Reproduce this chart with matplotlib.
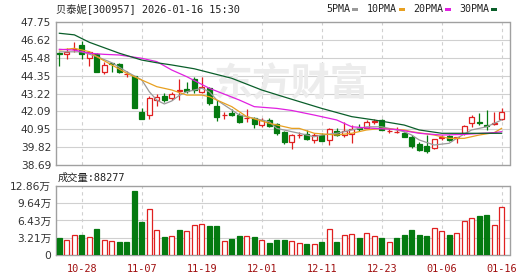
import numpy as np
import matplotlib
matplotlib.use("Agg")
import matplotlib.pyplot as plt

plt.rcParams['font.family'] = ['DejaVu Sans', 'Noto Sans CJK SC']

# ---- data ----
title = "贝泰妮[300957] 2026-01-16 15:30"
dates = ["10-28", "11-07", "11-19", "12-01", "12-11", "12-23", "01-06", "01-16"]
date_idx = [3, 11, 19, 27, 35, 43, 51, 59]

opens = [45.76, 45.69, 46.00, 46.28, 45.44, 45.69, 44.56, 45.15, 45.08, 44.44,
         44.32, 42.07, 41.86, 42.81, 43.06, 42.91, 43.37, 43.48, 44.11, 43.33,
         43.54, 42.43, 41.85, 41.97, 41.86, 41.68, 41.65, 41.23, 41.55, 41.28,
         40.78, 40.18, 40.59, 40.64, 40.29, 40.60, 40.29, 40.85, 40.60, 40.66,
         41.05, 41.05, 41.42, 41.55, 40.86, 40.80, 40.75, 40.45, 40.03, 39.91,
         39.76, 40.44, 40.54, 40.44, 40.71, 41.34, 41.42, 41.23, 41.32, 41.59]
highs = [45.86, 46.07, 46.49, 46.55, 45.88, 45.75, 45.23, 45.17, 45.17, 44.66,
         44.35, 42.28, 43.06, 43.18, 43.27, 43.33, 44.11, 43.96, 44.28, 44.28,
         43.65, 42.81, 42.07, 42.24, 41.97, 42.22, 41.76, 41.65, 41.65, 41.34,
         40.83, 40.65, 40.81, 40.91, 40.70, 40.70, 41.02, 41.02, 41.44, 41.23,
         41.30, 41.55, 41.60, 41.60, 41.02, 41.10, 40.78, 40.60, 40.18, 40.60,
         40.33, 40.60, 40.60, 40.50, 41.23, 41.86, 41.97, 42.18, 42.07, 42.28]
lows = [44.95, 45.38, 45.86, 45.38, 44.97, 44.60, 44.45, 44.56, 44.50, 44.28,
        42.28, 41.58, 41.61, 42.44, 42.70, 42.81, 42.81, 43.23, 43.27, 43.23,
        42.49, 41.48, 41.61, 41.80, 41.38, 41.44, 41.02, 41.13, 41.13, 40.61,
        40.05, 39.72, 40.39, 40.29, 40.12, 40.20, 39.97, 40.54, 40.49, 40.12,
        40.85, 41.02, 41.30, 40.90, 40.70, 40.70, 40.45, 39.76, 39.61, 39.48,
        39.70, 40.29, 40.25, 40.12, 40.60, 41.13, 41.23, 40.92, 41.23, 41.55]
closes = [45.70, 45.82, 46.02, 45.69, 45.86, 44.60, 45.02, 45.10, 44.56, 44.46,
          42.28, 41.61, 42.95, 43.02, 42.81, 43.18, 43.44, 43.40, 43.44, 43.65,
          42.60, 41.76, 41.87, 41.86, 41.44, 41.70, 41.30, 41.55, 41.19, 40.72,
          40.13, 40.60, 40.61, 40.33, 40.60, 40.25, 40.95, 40.60, 40.85, 40.95,
          40.98, 41.40, 41.46, 40.92, 40.88, 40.82, 40.49, 39.91, 39.65, 39.59,
          40.33, 40.46, 40.29, 40.46, 41.17, 41.76, 41.36, 41.17, 41.36, 42.07]

# volume in 万 and up(1)/down(0) colour of each bar
volume = [3.15, 2.8, 3.7, 3.7, 3.35, 4.8, 2.9, 2.6, 2.4, 2.4,
          11.9, 6.1, 8.5, 4.75, 3.35, 3.5, 4.65, 4.45, 5.55, 5.75,
          5.4, 5.4, 2.6, 2.95, 3.5, 3.5, 3.35, 2.8, 2.25, 2.8,
          2.8, 2.6, 2.2, 2.05, 2.05, 2.4, 4.8, 2.4, 3.7, 3.9,
          3.15, 4.1, 3.5, 3.15, 2.4, 3.15, 3.7, 4.65, 3.7, 3.5,
          5.0, 4.45, 3.7, 4.1, 6.3, 6.85, 7.25, 7.4, 5.55, 8.83]
vol_up = [0, 1, 1, 0, 1, 0, 1, 1, 0, 0,
          0, 0, 1, 1, 0, 1, 0, 1, 1, 1,
          0, 0, 1, 0, 0, 1, 0, 1, 0, 0,
          0, 1, 1, 0, 1, 0, 1, 0, 1, 1,
          0, 1, 1, 0, 1, 0, 0, 0, 0, 0,
          1, 1, 0, 1, 1, 1, 0, 0, 1, 1]

# moving averages, sampled at (day index, value)
ma5_x = [0, 3, 5, 7, 9, 11, 12, 13, 14, 15, 16, 17, 19, 20, 21, 23, 24, 26, 28, 29,
         31, 32, 34, 35, 37, 39, 41, 43, 46, 47, 48, 50, 52, 53, 55, 57, 59]
ma5_y = [45.85, 45.85, 45.55, 45.16, 44.59, 44.07, 43.33, 42.80, 42.56, 42.75, 43.10,
         43.33, 43.55, 43.33, 42.81, 42.18, 41.86, 41.65, 41.44, 41.02,
         40.81, 40.71, 40.49, 40.60, 40.71, 40.92, 41.12, 41.12, 40.81, 40.60,
         40.29, 39.97, 40.08, 40.39, 40.92, 41.12, 41.55]
ma10_x = [0, 2, 4, 5, 7, 9, 11, 13, 15, 17, 19, 20, 23, 25, 28, 31, 32, 34, 37,
          39, 41, 43, 46, 47, 50, 52, 54, 56, 58, 59]
ma10_y = [45.96, 46.07, 45.86, 45.54, 45.02, 44.49, 44.07, 43.65, 43.44, 43.12,
          43.12, 43.02, 42.39, 41.76, 41.34, 41.02, 41.02, 40.71, 40.60, 40.71,
          40.92, 41.02, 40.92, 40.81, 40.60, 40.39, 40.39, 40.60, 40.75, 41.02]
ma20_x = [0, 2, 4, 6, 8, 11, 13, 15, 17, 20, 24, 26, 29, 31, 34, 37, 39, 42, 45,
          48, 51, 54, 58, 59]
ma20_y = [46.01, 45.96, 45.76, 45.69, 45.65, 45.44, 45.23, 44.70, 44.28, 43.55,
          42.81, 42.39, 42.28, 42.15, 41.86, 41.55, 41.12, 41.02, 40.95, 40.71,
          40.60, 40.64, 40.75, 40.81]
ma30_x = [0, 2, 4, 8, 11, 13, 15, 18, 23, 27, 30, 35, 39, 42, 46, 48, 51, 54, 59]
ma30_y = [47.02, 46.92, 46.45, 45.76, 45.33, 45.16, 45.02, 44.78, 44.18, 43.44,
          43.00, 42.28, 41.76, 41.55, 41.23, 40.92, 40.71, 40.71, 40.71]

price_ticks = [38.69, 39.82, 40.95, 42.09, 43.22, 44.35, 45.48, 46.62, 47.75]
vol_ticks = [0, 3.21, 6.43, 9.64, 12.86]
vol_labels = ["0", "3.21万", "6.43万", "9.64万", "12.86万"]

RED = "#e02020"
GREEN = "#047a10"
GRID = "#d0d0d0"
BORDER = "#a0a0a0"

W, H = 530, 276
fig = plt.figure(figsize=(W / 100, H / 100), dpi=100)


def rect(x0, y0, x1, y1):
    return [x0 / W, 1 - y1 / H, (x1 - x0) / W, (y1 - y0) / H]


ax = fig.add_axes(rect(56, 21.7, 509.5, 165.3))
axv = fig.add_axes(rect(56, 185.7, 509.5, 255.2))

n = len(closes)
xlim = (-0.45, 60.05)

for a in (ax, axv):
    a.set_xlim(*xlim)
    for s in a.spines.values():
        s.set_color(BORDER)
        s.set_linewidth(1)
    a.tick_params(length=0, colors="#333333", labelsize=7.7)
    for xi in date_idx:
        a.axvline(xi, color=GRID, lw=0.8, ls=(0, (3, 3)), zorder=0)

# price panel
ax.set_ylim(price_ticks[0], price_ticks[-1])
ax.set_yticks(price_ticks)
ax.set_yticklabels([f"{t:.2f}" for t in price_ticks])
ax.set_xticks([])
for t in price_ticks[1:-1]:
    ax.axhline(t, color=GRID, lw=0.8, zorder=0)

ax.text(0.52, 0.56, "东方财富", transform=ax.transAxes, fontsize=28,
        fontweight="bold", color="#ececec", ha="center", va="center",
        family="Noto Sans CJK SC", zorder=0.5)

bw = 0.66
for i in range(n):
    o, h, l, c = opens[i], highs[i], lows[i], closes[i]
    up = c >= o
    col = RED if up else GREEN
    ax.vlines(i, l, h, color=col, lw=0.9, zorder=3)
    bottom = min(o, c)
    height = max(abs(c - o), 0.015)
    ax.bar(i, height, bw, bottom=bottom, facecolor="white" if up else GREEN,
           edgecolor=col, lw=0.9, zorder=4)

ax.plot(ma5_x, ma5_y, color="#9a9a9a", lw=0.9, zorder=5)
ax.plot(ma10_x, ma10_y, color="#e8a020", lw=0.9, zorder=5)
ax.plot(ma20_x, ma20_y, color="#e020e0", lw=0.9, zorder=5)
ax.plot(ma30_x, ma30_y, color="#0a5e2a", lw=0.9, zorder=5)

# volume panel
axv.set_ylim(0, vol_ticks[-1])
axv.set_yticks(vol_ticks)
axv.set_yticklabels(vol_labels)
for t in vol_ticks[1:-1]:
    axv.axhline(t, color=GRID, lw=0.8, zorder=0)
axv.set_xticks(date_idx)
axv.set_xticklabels(dates, family="DejaVu Sans Mono", fontsize=7.4,
                    color="#a01010")
axv.tick_params(axis="x", pad=6)
for i in range(n):
    up = vol_up[i] == 1
    axv.bar(i, volume[i], 0.66, facecolor="white" if up else GREEN,
            edgecolor=RED if up else GREEN, lw=0.9, zorder=3)

# header texts
mono = ["DejaVu Sans Mono", "Noto Sans CJK SC"]
fig.text(56 / W, 1 - 8.5 / H, title, family=mono, fontsize=7.4,
         color="#222222", va="center", ha="left")
fig.text(58 / W, 1 - 178 / H, "成交量:88277", family=mono, fontsize=7.4,
         color="#222222", va="center", ha="left")

legend_items = [("5PMA", "#9a9a9a", 326), ("10PMA", "#e8a020", 367),
                ("20PMA", "#e020e0", 413), ("30PMA", "#0a5e2a", 459)]
for label, col, px in legend_items:
    fig.text(px / W, 1 - 9.5 / H, label, family="DejaVu Sans Mono",
             fontsize=7.2, color="#222222", va="center", ha="left")
    sx = px + 6.0 * len(label) + 2
    fig.patches.append(plt.Rectangle((sx / W, 1 - 11 / H), 6 / W, 3 / H,
                                     transform=fig.transFigure,
                                     facecolor=col, edgecolor="none"))

fig.savefig("out.png", dpi=100, facecolor="white")
